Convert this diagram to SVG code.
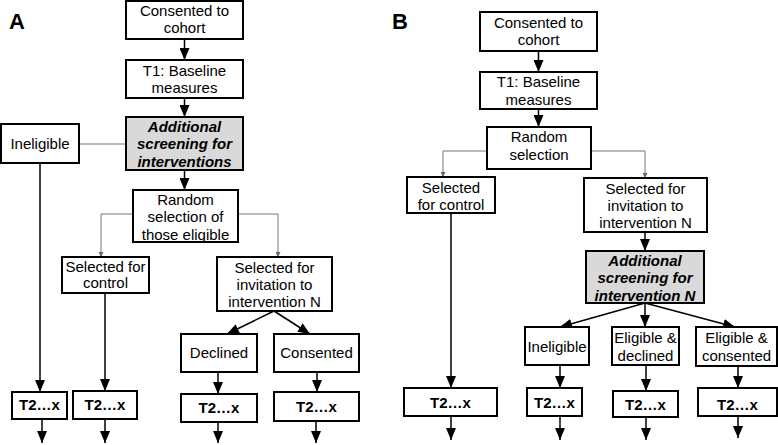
<svg xmlns="http://www.w3.org/2000/svg" width="778" height="445" viewBox="0 0 778 445">
<style>
.box{fill:#fff;stroke:#000;stroke-width:2}
.grey{fill:#d9d9d9;stroke:#000;stroke-width:2}
text{font-family:"Liberation Sans",Arial,sans-serif;font-size:15px;text-anchor:middle;fill:#000}
.bi{font-weight:bold;font-style:italic}
.b{font-weight:bold}
.lbl{font-size:22px;font-weight:bold;text-anchor:start}
.c{fill:none;stroke:#000;stroke-width:1.5}
.t{fill:none;stroke:#777;stroke-width:1}
</style>
<defs>
<marker id="ah" viewBox="0 0 12 10" refX="12" refY="5" markerWidth="12" markerHeight="10" markerUnits="userSpaceOnUse" orient="auto"><path d="M0,0 L12,5 L0,10 z" fill="#000"/></marker>
<marker id="sh" viewBox="0 0 5 5" refX="5" refY="2.5" markerWidth="5" markerHeight="5" markerUnits="userSpaceOnUse" orient="auto"><path d="M0,0 L5,2.5 L0,5 z" fill="#666"/></marker>
</defs>
<text class="lbl" x="9" y="29">A</text>
<text class="lbl" x="392" y="29">B</text>
<g id="connectors">
<!-- A -->
<path class="c" d="M184.5,39 V60" marker-end="url(#ah)"/>
<path class="c" d="M184.5,98 V117" marker-end="url(#ah)"/>
<path class="t" d="M79,144 H126"/>
<path class="c" d="M184.5,170 V190" marker-end="url(#ah)"/>
<path class="t" d="M133,214 H101 V257" marker-end="url(#sh)"/>
<path class="t" d="M238,214 H278 V257" marker-end="url(#sh)"/>
<path class="c" d="M40,163 V392" marker-end="url(#ah)"/>
<path class="c" d="M105,293 V391" marker-end="url(#ah)"/>
<path class="c" d="M274,311 L227,334" marker-end="url(#ah)"/>
<path class="c" d="M274,311 L310,334" marker-end="url(#ah)"/>
<path class="c" d="M218,372 V394" marker-end="url(#ah)"/>
<path class="c" d="M317,372 V392" marker-end="url(#ah)"/>
<path class="c" d="M42,419 V443" marker-end="url(#ah)"/>
<path class="c" d="M105,419 V443" marker-end="url(#ah)"/>
<path class="c" d="M218,422 V443" marker-end="url(#ah)"/>
<path class="c" d="M316,421 V443" marker-end="url(#ah)"/>
<!-- B -->
<path class="c" d="M538.5,51 V72" marker-end="url(#ah)"/>
<path class="c" d="M538.5,109 V127" marker-end="url(#ah)"/>
<path class="t" d="M487,151 H443 V177" marker-end="url(#sh)"/>
<path class="t" d="M591,151 H645 V178" marker-end="url(#sh)"/>
<path class="c" d="M645,232 V251" marker-end="url(#ah)"/>
<path class="c" d="M645,303 L560,327" marker-end="url(#ah)"/>
<path class="c" d="M645,303 V327" marker-end="url(#ah)"/>
<path class="c" d="M645,303 L735,327" marker-end="url(#ah)"/>
<path class="c" d="M451,213 V388" marker-end="url(#ah)"/>
<path class="c" d="M560,365 V388" marker-end="url(#ah)"/>
<path class="c" d="M646,365 V391" marker-end="url(#ah)"/>
<path class="c" d="M738,366 V388" marker-end="url(#ah)"/>
<path class="c" d="M451,416 V440" marker-end="url(#ah)"/>
<path class="c" d="M560,416 V440" marker-end="url(#ah)"/>
<path class="c" d="M646,417 V440" marker-end="url(#ah)"/>
<path class="c" d="M738,416 V438" marker-end="url(#ah)"/>
</g>
<!-- Panel A nodes -->
<g id="a-consented"><rect class="box" x="126" y="1" width="117" height="38"/><text x="184.5" y="16">Consented to</text><text x="184.5" y="33">cohort</text></g>
<g id="a-t1"><rect class="box" x="126" y="60" width="117" height="38"/><text x="184.5" y="76">T1: Baseline</text><text x="184.5" y="93">measures</text></g>
<g id="a-screening"><rect class="grey" x="126" y="117" width="117" height="53"/><text class="bi" x="184.5" y="132">Additional</text><text class="bi" x="184.5" y="149">screening for</text><text class="bi" x="184.5" y="167">interventions</text></g>
<g id="a-ineligible"><rect class="box" x="1" y="124" width="78" height="39"/><text x="40" y="149">Ineligible</text></g>
<g id="a-random"><rect class="box" x="133" y="190" width="105" height="52"/><text x="185.5" y="205">Random</text><text x="185.5" y="222">selection of</text><text x="185.5" y="240">those eligible</text></g>
<g id="a-control"><rect class="box" x="62" y="257" width="87" height="36"/><text x="105.5" y="272">Selected for</text><text x="105.5" y="288">control</text></g>
<g id="a-invitation"><rect class="box" x="217" y="257" width="115" height="54"/><text x="274.5" y="273">Selected for</text><text x="274.5" y="290">invitation to</text><text x="274.5" y="307">intervention N</text></g>
<g id="a-declined"><rect class="box" x="181" y="334" width="76" height="38"/><text x="219" y="358">Declined</text></g>
<g id="a-consented2"><rect class="box" x="274" y="334" width="85" height="38"/><text x="316.5" y="358">Consented</text></g>
<g id="a-t2-1"><rect class="box" x="12" y="392" width="55" height="27"/><text class="b" x="39.5" y="410">T2…x</text></g>
<g id="a-t2-2"><rect class="box" x="73" y="391" width="64" height="28"/><text class="b" x="105" y="410">T2…x</text></g>
<g id="a-t2-3"><rect class="box" x="181" y="394" width="76" height="28"/><text class="b" x="219" y="413">T2…x</text></g>
<g id="a-t2-4"><rect class="box" x="274" y="392" width="85" height="29"/><text class="b" x="316.5" y="412">T2…x</text></g>
<!-- Panel B nodes -->
<g id="b-consented"><rect class="box" x="480" y="12" width="117" height="39"/><text x="538.5" y="28">Consented to</text><text x="538.5" y="45">cohort</text></g>
<g id="b-t1"><rect class="box" x="480" y="72" width="117" height="37"/><text x="538.5" y="87">T1: Baseline</text><text x="538.5" y="105">measures</text></g>
<g id="b-random"><rect class="box" x="487" y="127" width="104" height="42"/><text x="539" y="142">Random</text><text x="539" y="160">selection</text></g>
<g id="b-control"><rect class="box" x="407" y="177" width="88" height="36"/><text x="451" y="193">Selected</text><text x="451" y="210">for control</text></g>
<g id="b-invitation"><rect class="box" x="584" y="178" width="123" height="54"/><text x="645.5" y="194">Selected for</text><text x="645.5" y="211">invitation to</text><text x="645.5" y="228">intervention N</text></g>
<g id="b-screening"><rect class="grey" x="586" y="251" width="118" height="52"/><text class="bi" x="645" y="266">Additional</text><text class="bi" x="645" y="283">screening for</text><text class="bi" x="645" y="301">intervention N</text></g>
<g id="b-ineligible"><rect class="box" x="525" y="327" width="64" height="38"/><text x="557" y="352">Ineligible</text></g>
<g id="b-declined"><rect class="box" x="612" y="327" width="67" height="38"/><text x="645.5" y="343">Eligible &amp;</text><text x="645.5" y="361">declined</text></g>
<g id="b-consented2"><rect class="box" x="696" y="327" width="81" height="39"/><text x="736.5" y="343">Eligible &amp;</text><text x="736.5" y="361">consented</text></g>
<g id="b-t2-1"><rect class="box" x="404" y="388" width="93" height="28"/><text class="b" x="450.5" y="408">T2…x</text></g>
<g id="b-t2-2"><rect class="box" x="527" y="388" width="55" height="28"/><text class="b" x="554.5" y="408">T2…x</text></g>
<g id="b-t2-3"><rect class="box" x="613" y="391" width="65" height="26"/><text class="b" x="645.5" y="410">T2…x</text></g>
<g id="b-t2-4"><rect class="box" x="698" y="388" width="79" height="28"/><text class="b" x="737.5" y="410">T2…x</text></g>
</svg>
